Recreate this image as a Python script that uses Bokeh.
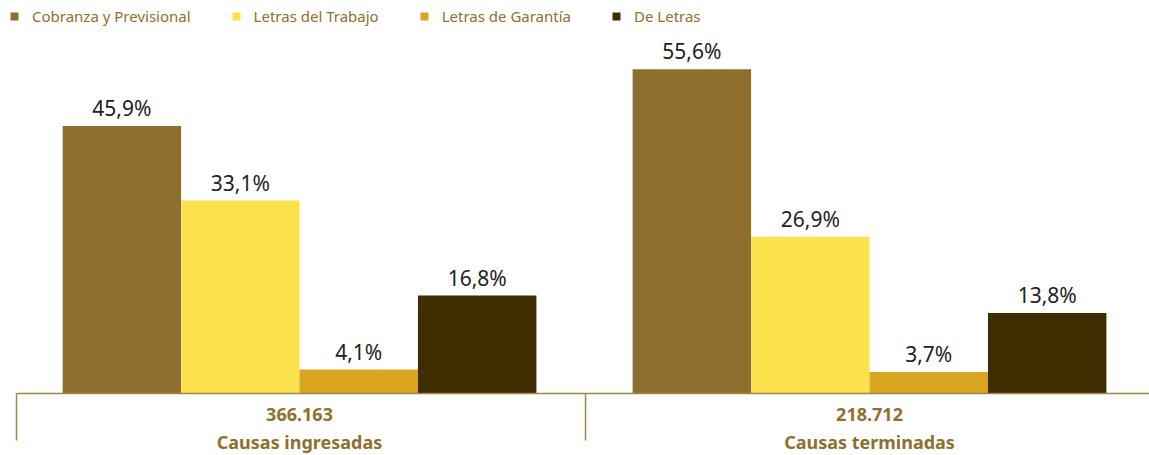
from bokeh.plotting import figure
from bokeh.models import ColumnDataSource, Legend, LegendItem, Range1d
from bokeh.core.properties import value
from bokeh.embed import file_html
from bokeh.resources import INLINE

# ---- data ----
groups = ["Causas ingresadas", "Causas terminadas"]
group_totals = ["366.163", "218.712"]
series = ["Cobranza y Previsional", "Letras del Trabajo", "Letras de Garantía", "De Letras"]
colors = ["#8f6f2d", "#fbe24c", "#daa520", "#3e2d00"]
values = {
    "Cobranza y Previsional": [45.9, 55.6],
    "Letras del Trabajo": [33.1, 26.9],
    "Letras de Garantía": [4.1, 3.7],
    "De Letras": [16.8, 13.8],
}

FONT = "Noto Sans"
GOLD = "#8f6f2d"

W, H = 1149, 455
p = figure(width=W, height=H, output_backend="svg", toolbar_location=None,
           min_border=0, min_border_left=0, min_border_right=0,
           min_border_top=0, min_border_bottom=0,
           x_range=Range1d(-0.5246, 1.4912), y_range=Range1d(-10.63, 67.41))
p.axis.visible = False
p.grid.visible = False
p.outline_line_color = None
p.background_fill_color = "white"

bw = 0.2078
legend_items = []
for i, s in enumerate(series):
    xs = [g + (i - 1.5) * bw for g in range(len(groups))]
    src = ColumnDataSource(dict(x=xs, top=values[s],
                                lab=[f"{v:.1f}%".replace(".", ",") for v in values[s]]))
    r = p.vbar(x="x", top="top", width=bw, bottom=0, source=src,
               fill_color=colors[i], line_color=None)
    p.text(x="x", y="top", text="lab", source=src, text_align="center",
           text_baseline="bottom", y_offset=-4, text_font=value(FONT),
           text_font_size="21px", text_color="#222222")
    legend_items.append(LegendItem(label=s, renderers=[r]))

# axis line and separators
p.segment(x0=[-0.4965], y0=[0], x1=[1.5], y1=[0], line_color="#a08745", line_width=1.5)
p.segment(x0=[-0.4965, 0.5018], y0=[0, 0], x1=[-0.4965, 0.5018], y1=[-8.06, -8.06],
          line_color="#a08745", line_width=1.5)

# category labels
gsrc = ColumnDataSource(dict(x=list(range(len(groups))), y=[0, 0], tot=group_totals, name=groups))
p.text(x="x", y="y", text="tot", source=gsrc, text_align="center", text_baseline="middle",
       y_offset=21, text_font=value(FONT), text_font_size="18px", text_font_style="bold",
       text_color=GOLD)
p.text(x="x", y="y", text="name", source=gsrc, text_align="center", text_baseline="middle",
       y_offset=48, text_font=value(FONT), text_font_size="18px", text_font_style="bold",
       text_color=GOLD)

legend = Legend(items=legend_items, orientation="horizontal", location=(9, H - 26),
                glyph_width=10, glyph_height=10, label_standoff=13, spacing=40,
                padding=0, margin=0, border_line_alpha=0, background_fill_alpha=0,
                label_text_font=FONT, label_text_font_size="15px",
                label_text_color=GOLD, label_height=15)
p.add_layout(legend, "center")

open("out.html", "w").write(file_html(p, INLINE))
